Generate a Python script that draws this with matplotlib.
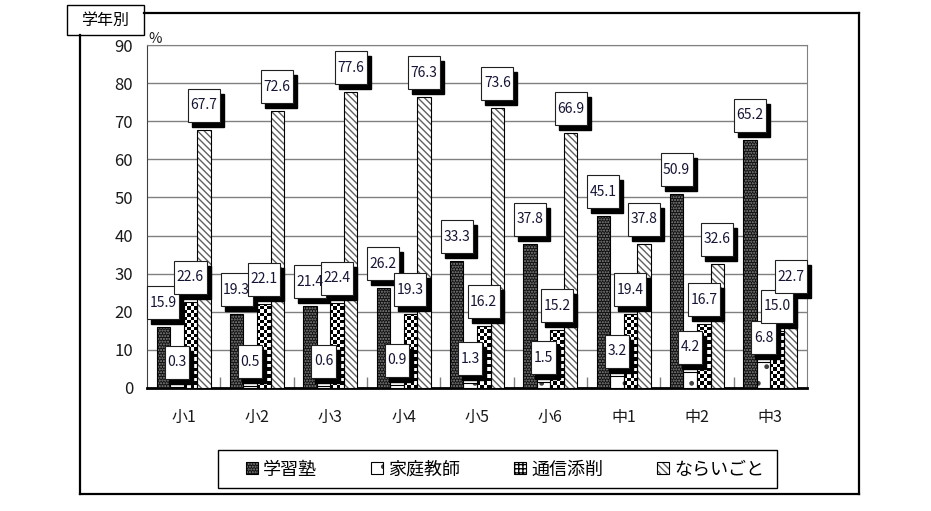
import numpy as np
import matplotlib
matplotlib.use("Agg")
import matplotlib.pyplot as plt
from matplotlib.patches import Rectangle, Patch
from matplotlib.lines import Line2D
from matplotlib.transforms import IdentityTransform

plt.rcParams['font.family'] = ['Noto Sans CJK JP', 'DejaVu Sans']
plt.rcParams['hatch.linewidth'] = 1.0

# data
grades = ['小1', '小2', '小3', '小4', '小5', '小6', '中1', '中2', '中3']
juku = [15.9, 19.3, 21.4, 26.2, 33.3, 37.8, 45.1, 50.9, 65.2]
katei = [0.3, 0.5, 0.6, 0.9, 1.3, 1.5, 3.2, 4.2, 6.8]
tsushin = [22.6, 22.1, 22.4, 19.3, 16.2, 15.2, 19.4, 16.7, 15.0]
narai = [67.7, 72.6, 77.6, 76.3, 73.6, 66.9, 37.8, 32.6, 22.7]
series_names = ['学習塾', '家庭教師', '通信添削', 'ならいごと']
yticks = [0, 10, 20, 30, 40, 50, 60, 70, 80, 90]

W, H = 931, 511
fig = plt.figure(figsize=(W / 100, H / 100), dpi=100)
fig.patch.set_facecolor('white')
ident = IdentityTransform()


def px(x, y):
    # pixel position measured from top-left -> display coords
    return x, H - y


ax = fig.add_axes([147 / W, 1 - 388 / H, 660 / W, 343 / H])

x = np.arange(len(grades))
bw = 0.185
offs = np.array([-1.5, -0.5, 0.5, 1.5]) * bw

styles = [
    dict(facecolor='#101010', edgecolor='#8a8a8a', hatch='......'),
    dict(facecolor='white', edgecolor='#404040', hatch='.'),
    None,  # checkerboard, drawn as image below
    dict(facecolor='white', edgecolor='#606060', hatch='\\\\\\\\\\'),
]
all_vals = [juku, katei, tsushin, narai]

ax.set_xlim(-0.5, 8.5)
ax.set_ylim(0, 90)
ppx = 660 / 9.0     # pixels per category
ppy = 343 / 90.0    # pixels per percent

for vals, off, st in zip(all_vals, offs, styles):
    if st is None:
        for xi, v in zip(x, vals):
            nx = 4
            cell = bw * ppx / nx
            ny = max(1, int(round(v * ppy / cell)))
            ii, jj = np.indices((ny, nx))
            ax.imshow((ii + jj) % 2, cmap='gray', vmin=0, vmax=1,
                      extent=(xi + off - bw / 2, xi + off + bw / 2, 0, ny * cell / ppy),
                      aspect='auto', interpolation='nearest', zorder=3)
        rects = ax.bar(x + off, vals, width=bw, fill=False, linewidth=0, zorder=2)
        for r, im in zip(rects, ax.images[-len(vals):]):
            im.set_clip_path(r)
    else:
        ax.bar(x + off, vals, width=bw, linewidth=0, zorder=3, **st)
    ax.bar(x + off, vals, width=bw, fill=False, edgecolor='black',
           linewidth=0.8, zorder=4)

ax.set_xlim(-0.5, 8.5)
ax.set_ylim(0, 90)

# axes styling
ax.set_yticks(yticks)
ax.yaxis.grid(True, color='#808080', linewidth=1.0, zorder=0)
ax.set_axisbelow(True)
ax.tick_params(axis='y', length=0, pad=10, labelsize=12, labelcolor='#1a1a1a')
ax.set_xticks(x)
ax.set_xticklabels(grades)
ax.tick_params(axis='x', which='major', length=0, pad=15, labelsize=11.5,
               labelcolor='#1a1a1a')
ax.set_xticks(np.arange(0.5, 8.5, 1.0), minor=True)
ax.tick_params(axis='x', which='minor', direction='in', length=8,
               color='#808080', width=1)
for side in ['top', 'right']:
    ax.spines[side].set_color('#808080')
ax.spines['left'].set_color('#404040')
ax.spines['bottom'].set_color('black')
ax.spines['bottom'].set_linewidth(2)

# value labels: white boxes with black drop shadow
fig.canvas.draw()
renderer = fig.canvas.get_renderer()
box_h = 33
for vals, off in zip(all_vals, offs):
    for xi, v in zip(x, vals):
        s = f'{v:.1f}'
        bx, by = ax.transData.transform((xi + off, v))
        bottom = by + 8
        t = fig.text(bx, bottom + box_h / 2, s, transform=ident, ha='center',
                     va='center', fontsize=10, color='#151535', zorder=7)
        tw = t.get_window_extent(renderer).width
        bw_px = tw + 5
        fig.add_artist(Rectangle((bx - bw_px / 2 + 4, bottom - 5), bw_px, box_h,
                                 facecolor='black', edgecolor='black',
                                 transform=ident, zorder=5))
        fig.add_artist(Rectangle((bx - bw_px / 2, bottom), bw_px, box_h,
                                 facecolor='white', edgecolor='#202020',
                                 linewidth=0.8, transform=ident, zorder=6))

fig.text(*px(148, 46), '%', transform=ident, ha='left', va='bottom',
         fontsize=10.5, color='#1a1a1a')

# outer frame
frame = [((144, 13), (859, 13)), ((859, 13), (859, 494)),
         ((80, 494), (859, 494)), ((80, 35), (80, 494))]
for (x0, y0), (x1, y1) in frame:
    p0, p1 = px(x0, y0), px(x1, y1)
    fig.add_artist(Line2D([p0[0], p1[0]], [p0[1], p1[1]], color='black',
                          linewidth=1.6, transform=ident))

# title box
fig.add_artist(Rectangle(px(67, 35), 77, 30, facecolor='white',
                         edgecolor='black', linewidth=1.0, transform=ident))
fig.text(*px(105.5, 20), '学年別', transform=ident, ha='center', va='center',
         fontsize=11.5)

# legend
outline = dict(fill=False, edgecolor='black', linewidth=0.8)
handles = [
    (Patch(**styles[0], linewidth=0), Patch(**outline)),
    (Patch(**styles[1], linewidth=0), Patch(**outline)),
    (Patch(facecolor='white', edgecolor='black', hatch='++++', linewidth=0), Patch(**outline)),
    (Patch(**styles[3], linewidth=0), Patch(**outline)),
]
fig.add_artist(Rectangle(px(218, 488), 559, 38, facecolor='white',
                         edgecolor='black', linewidth=1.0, transform=ident))
leg = fig.legend(handles, series_names, loc='center left',
                 bbox_to_anchor=(246 / W, 1 - 469.5 / H),
                 ncol=4, fontsize=13, frameon=False,
                 handlelength=0.66, handleheight=0.66, handletextpad=0.28,
                 columnspacing=3.0, borderpad=0, borderaxespad=0)

fig.savefig('out.png', dpi=100)
